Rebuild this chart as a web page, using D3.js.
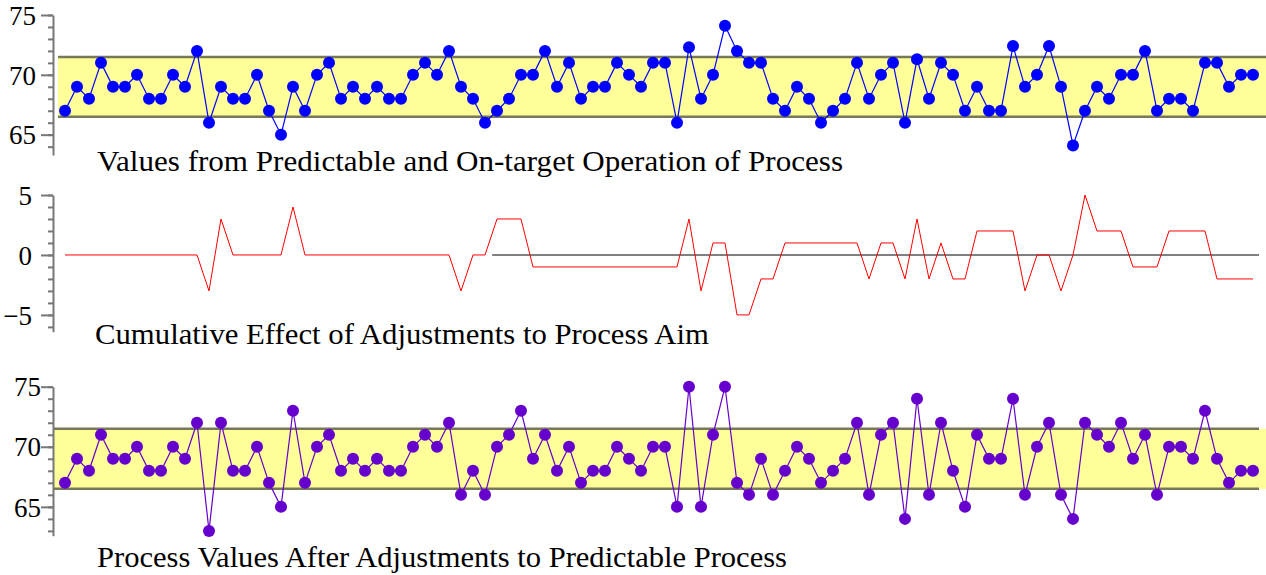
<!DOCTYPE html>
<html>
<head>
<meta charset="utf-8">
<script src="https://cdn.jsdelivr.net/npm/d3@7"></script>
<style>
  body { margin: 0; background: #fff; }
  svg { display: block; }
  .tick text { font-family: "Liberation Serif", "DejaVu Serif", serif; fill: #000; }
  .title { font-family: "Liberation Serif", "DejaVu Serif", serif; fill: #000; }
</style>
</head>
<body>
<div id="chart"></div>
<script>
// values as run, no adjustment
var rawValues = [67, 69, 68, 71, 69, 69, 70, 68, 68, 70,
    69, 72, 66, 69, 68, 68, 70, 67, 65, 69,
    67, 70, 71, 68, 69, 68, 69, 68, 68, 70,
    71, 70, 72, 69, 68, 66, 67, 68, 70, 70,
    72, 69, 71, 68, 69, 69, 71, 70, 69, 71,
    71, 66, 72.3, 68, 70, 74.1, 72, 71, 71, 68,
    67, 69, 68, 66, 67, 68, 71, 68, 70, 71,
    66, 71.3, 68, 71, 70, 67, 69, 67, 67, 72.4,
    69, 70, 72.4, 69, 64.1, 67, 69, 68, 70, 70,
    72, 67, 68, 68, 67, 71, 71, 69, 70, 70];

// cumulative effect of the adjustments
var adjustments = [0, 0, 0, 0, 0, 0, 0, 0, 0, 0,
    0, 0, -3, 3, 0, 0, 0, 0, 0, 4,
    0, 0, 0, 0, 0, 0, 0, 0, 0, 0,
    0, 0, 0, -3, 0, 0, 3, 3, 3, -1,
    -1, -1, -1, -1, -1, -1, -1, -1, -1, -1,
    -1, -1, 3, -3, 1, 1, -5, -5, -2, -2,
    1, 1, 1, 1, 1, 1, 1, -2, 1, 1,
    -2, 3, -2, 1, -2, -2, 2, 2, 2, 2,
    -3, 0, 0, -3, 0, 5, 2, 2, 2, -1,
    -1, -1, 2, 2, 2, 2, -2, -2, -2, -2];

// values after the adjustments
var adjustedValues = [67, 69, 68, 71, 69, 69, 70, 68, 68, 70,
    69, 72, 63, 72, 68, 68, 70, 67, 65, 73,
    67, 70, 71, 68, 69, 68, 69, 68, 68, 70,
    71, 70, 72, 66, 68, 66, 70, 71, 73, 69,
    71, 68, 70, 67, 68, 68, 70, 69, 68, 70,
    70, 65, 75, 65, 71, 75, 67, 66, 69, 66,
    68, 70, 69, 67, 68, 69, 72, 66, 71, 72,
    64, 74, 66, 72, 68, 65, 71, 69, 69, 74,
    66, 70, 72, 66, 64, 72, 71, 70, 72, 69,
    71, 66, 70, 70, 69, 73, 69, 67, 68, 68];

var limits = [66.5, 71.5];
var valueTicks = [65, 70, 75];
var valueMinor = d3.range(63, 76);
var adjustTicks = [-5, 0, 5];
var adjustMinor = d3.range(-6, 6);
var zeroLineFrom = 35.6, zeroLineTo = 99.5;

var titles = [
    "Values from Predictable and On-target Operation of Process",
    "Cumulative Effect of Adjustments to Process Aim",
    "Process Values After Adjustments to Predictable Process"
];

var width = 1266, height = 575;
var axisX = 53;

var svg = d3.select("#chart").append("svg")
    .attr("width", width)
    .attr("height", height);

var x = d3.scaleLinear()
    .domain([0, rawValues.length - 1])
    .range([65, 1253]);

function drawAxis(g, y, major, minor, labelGap) {
    var minorAxis = d3.axisLeft(y)
        .tickValues(minor)
        .tickSize(5)
        .tickSizeOuter(0)
        .tickFormat("");
    var ga = g.append("g")
        .attr("transform", "translate(" + axisX + ",0)")
        .call(minorAxis);
    ga.select(".domain").attr("stroke", "#777").attr("stroke-width", 2);
    ga.selectAll(".tick line").attr("stroke", "#777").attr("stroke-width", 2);

    var majorAxis = d3.axisLeft(y)
        .tickValues(major)
        .tickSize(12)
        .tickSizeOuter(0)
        .tickPadding(labelGap);
    var gb = g.append("g")
        .attr("transform", "translate(" + axisX + ",0)")
        .call(majorAxis);
    gb.select(".domain").remove();
    gb.selectAll(".tick line").attr("stroke", "#777").attr("stroke-width", 2);
    gb.selectAll(".tick text").style("font-size", "27px").attr("dy", "0.34em");
}

function drawBand(g, y, x0, x1, lineEnd) {
    g.append("rect")
        .attr("x", x0)
        .attr("y", y(limits[1]))
        .attr("width", x1 - x0)
        .attr("height", y(limits[0]) - y(limits[1]))
        .attr("fill", "#ffff99");
    limits.forEach(function (l) {
        g.append("line")
            .attr("x1", x0).attr("x2", lineEnd)
            .attr("y1", y(l)).attr("y2", y(l))
            .attr("stroke", "#77775a")
            .attr("stroke-width", 2.5);
    });
}

function drawSeries(g, y, data, color) {
    var line = d3.line()
        .x(function (d, i) { return x(i); })
        .y(function (d) { return y(d); });
    g.append("path")
        .datum(data)
        .attr("d", line)
        .attr("fill", "none")
        .attr("stroke", color)
        .attr("stroke-width", 1.2);
    g.selectAll("circle")
        .data(data)
        .enter()
        .append("circle")
        .attr("cx", function (d, i) { return x(i); })
        .attr("cy", function (d) { return y(d); })
        .attr("r", 6)
        .attr("fill", color);
}

function drawTitle(g, text, tx, ty, len) {
    g.append("text")
        .attr("class", "title")
        .attr("x", tx)
        .attr("y", ty)
        .attr("textLength", len)
        .attr("lengthAdjust", "spacingAndGlyphs")
        .style("font-size", "29px")
        .text(text);
}

// first panel
var y1 = d3.scaleLinear().domain([63.3, 75]).range([155, 15]);
var g1 = svg.append("g");
drawBand(g1, y1, 58, width, width);
drawAxis(g1, y1, valueTicks, valueMinor.filter(function (d) { return y1(d) <= 155; }), 5);
drawSeries(g1.append("g"), y1, rawValues, "#0000ff");
drawTitle(g1, titles[0], 97, 171, 746);

// second panel
var y2 = d3.scaleLinear().domain([-6.4, 5]).range([331.7, 195]);
var g2 = svg.append("g");
drawAxis(g2, y2, adjustTicks, adjustMinor.filter(function (d) { return y2(d) <= 331.7; }), 9);
g2.append("line")
    .attr("x1", x(zeroLineFrom)).attr("x2", x(zeroLineTo))
    .attr("y1", y2(0)).attr("y2", y2(0))
    .attr("stroke", "#808080")
    .attr("stroke-width", 2);
g2.append("path")
    .datum(adjustments)
    .attr("d", d3.line()
        .x(function (d, i) { return x(i); })
        .y(function (d) { return y2(d); }))
    .attr("fill", "none")
    .attr("stroke", "#ff0000")
    .attr("stroke-width", 1);
drawTitle(g2, titles[1], 95, 344, 614);

// third panel
var y3 = d3.scaleLinear().domain([62.6, 75]).range([535.7, 386.7]);
var g3 = svg.append("g");
drawBand(g3, y3, 53, width, 1259);
drawAxis(g3, y3, valueTicks, valueMinor.filter(function (d) { return y3(d) <= 536; }), 0);
drawSeries(g3.append("g"), y3, adjustedValues, "#6600cc");
drawTitle(g3, titles[2], 97, 567, 690);
</script>
</body>
</html>
